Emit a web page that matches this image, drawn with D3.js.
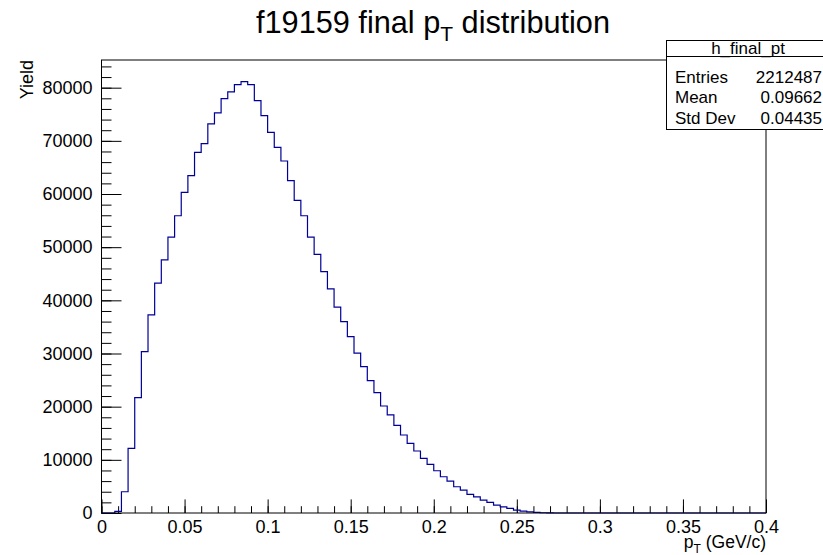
<!DOCTYPE html>
<html>
<head>
<meta charset="utf-8">
<script src="https://cdn.jsdelivr.net/npm/d3@7"></script>
<style>
body { margin: 0; background: #fff; }
svg { font-family: "Liberation Sans", Arial, Helvetica, sans-serif; }
</style>
</head>
<body>
<svg id="hist_svg" width="823" height="555"></svg>
<script>

// bin contents of h_final_pt, 100 bins from 0 to 0.4 GeV/c
const binCounts = [
    0, 0, 300, 4000, 12170, 21700, 30360, 37270, 43240, 47630,
    51900, 55910, 60300, 63450, 67840, 69470, 73180, 75250, 77950, 79210,
    80590, 81150, 80590, 77570, 74750, 71600, 68780, 66210, 62500, 58800,
    55910, 51900, 48630, 45420, 42170, 38720, 36010, 33180, 30060, 27530,
    24900, 22640, 20130, 18440, 16490, 14670, 13100, 11660, 10280, 9150,
    7950, 6820, 6010, 4940, 4310, 3500, 3050, 2430, 2000, 1490,
    1170, 870, 550, 360, 200, 100, 50, 20, 0, 0,
    0, 0, 0, 0, 0, 0, 0, 0, 0, 0,
    0, 0, 0, 0, 0, 0, 0, 0, 0, 0,
    0, 0, 0, 0, 0, 0, 0, 0, 0, 0
];
const binRange = [0, 0.4];

const xMajorTicks = [0, 0.05, 0.1, 0.15, 0.2, 0.25, 0.3, 0.35, 0.4];
const xTickLabels = ["0", "0.05", "0.1", "0.15", "0.2", "0.25", "0.3", "0.35", "0.4"];
const yMajorTicks = [0, 10000, 20000, 30000, 40000, 50000, 60000, 70000, 80000];
const yTickLabels = ["0", "10000", "20000", "30000", "40000", "50000", "60000", "70000", "80000"];

const statsName = "h_final_pt";
const statsLabels = ["Entries", "Mean", "Std Dev"];
const statsValues = ["2212487", "0.09662", "0.04435"];

const svg = d3.select("#hist_svg");

const frame = { left: 101.5, right: 766, top: 60, bottom: 513 };

// ROOT puts the maximum at 1.05 * highest bin
const yMax = d3.max(binCounts) * 1.05;

const x = d3.scaleLinear().domain(binRange).range([frame.left, frame.right]);
const y = d3.scaleLinear().domain([0, yMax]).range([frame.bottom, frame.top]);

const xMinor = d3.range(0, 41).map(i => i / 100);
const yMinor = d3.range(0, Math.floor(yMax / 2000) + 1).map(i => i * 2000);

// title
const title = svg.append("text")
    .attr("x", 433)
    .attr("y", 33)
    .attr("text-anchor", "middle")
    .style("font-size", "30.7px");
title.append("tspan").text("f19159 final p");
title.append("tspan").attr("dy", 8).style("font-size", "21px").text("T");
title.append("tspan").attr("dy", -8).text(" distribution");

// minor and major ticks on x
svg.append("g")
    .attr("transform", "translate(0," + frame.bottom + ")")
    .call(d3.axisBottom(x).tickValues(xMinor).tickSize(-6.8).tickFormat(""))
    .call(g => g.select(".domain").remove());

svg.append("g")
    .attr("class", "x-axis")
    .attr("transform", "translate(0," + frame.bottom + ")")
    .call(d3.axisBottom(x)
        .tickValues(xMajorTicks)
        .tickSize(-13.6)
        .tickPadding(7)
        .tickFormat((d, i) => xTickLabels[i]))
    .call(g => g.select(".domain").remove());

// minor and major ticks on y
svg.append("g")
    .attr("transform", "translate(" + frame.left + ",0)")
    .call(d3.axisLeft(y).tickValues(yMinor).tickSize(-10).tickFormat(""))
    .call(g => g.select(".domain").remove());

svg.append("g")
    .attr("class", "y-axis")
    .attr("transform", "translate(" + frame.left + ",0)")
    .call(d3.axisLeft(y)
        .tickValues(yMajorTicks)
        .tickSize(-20)
        .tickPadding(9)
        .tickFormat((d, i) => yTickLabels[i]))
    .call(g => g.select(".domain").remove());

svg.selectAll(".tick line").attr("stroke", "#000");
svg.selectAll(".x-axis text, .y-axis text")
    .style("font-size", "18px")
    .style("font-family", "'Liberation Sans', Arial, sans-serif")
    .attr("fill", "#000");

// histogram outline
const binWidth = (binRange[1] - binRange[0]) / binCounts.length;
const stepPoints = binCounts.map((c, i) => [binRange[0] + i * binWidth, c]);
stepPoints.push([binRange[1], binCounts[binCounts.length - 1]]);

svg.append("path")
    .datum(stepPoints)
    .attr("fill", "none")
    .attr("stroke", "#000099")
    .attr("stroke-width", 1.2)
    .attr("d", d3.line()
        .x(d => x(d[0]))
        .y(d => y(d[1]))
        .curve(d3.curveStepAfter));

// frame
svg.append("rect")
    .attr("x", frame.left)
    .attr("y", frame.top)
    .attr("width", frame.right - frame.left)
    .attr("height", frame.bottom - frame.top)
    .attr("fill", "none")
    .attr("stroke", "#000");

// axis titles
const xTitle = svg.append("text")
    .attr("x", frame.right)
    .attr("y", 548)
    .attr("text-anchor", "end")
    .style("font-size", "17.5px");
xTitle.append("tspan").text("p");
xTitle.append("tspan").attr("dy", 5).style("font-size", "12px").text("T");
xTitle.append("tspan").attr("dy", -5).text(" (GeV/c)");

svg.append("text")
    .attr("transform", "translate(33," + frame.top + ") rotate(-90)")
    .attr("text-anchor", "end")
    .style("font-size", "18px")
    .text("Yield");

// stats box
const stats = svg.append("g");
stats.append("rect")
    .attr("x", 666.5)
    .attr("y", 40.5)
    .attr("width", 170)
    .attr("height", 89)
    .attr("fill", "#fff")
    .attr("stroke", "#000");
stats.append("line")
    .attr("x1", 666.5).attr("x2", 823)
    .attr("y1", 56.5).attr("y2", 56.5)
    .attr("stroke", "#000");
stats.append("text")
    .attr("x", 748)
    .attr("y", 54)
    .attr("text-anchor", "middle")
    .style("font-size", "17px")
    .text(statsName);
stats.selectAll(".stat-label")
    .data(statsLabels)
    .enter()
    .append("text")
    .attr("class", "stat-label")
    .attr("x", 675)
    .attr("y", (d, i) => 82.5 + i * 20.8)
    .style("font-size", "17px")
    .text(d => d);
stats.selectAll(".stat-value")
    .data(statsValues)
    .enter()
    .append("text")
    .attr("class", "stat-value")
    .attr("x", 822)
    .attr("y", (d, i) => 82.5 + i * 20.8)
    .attr("text-anchor", "end")
    .style("font-size", "17px")
    .text(d => d);

</script>
</body>
</html>
